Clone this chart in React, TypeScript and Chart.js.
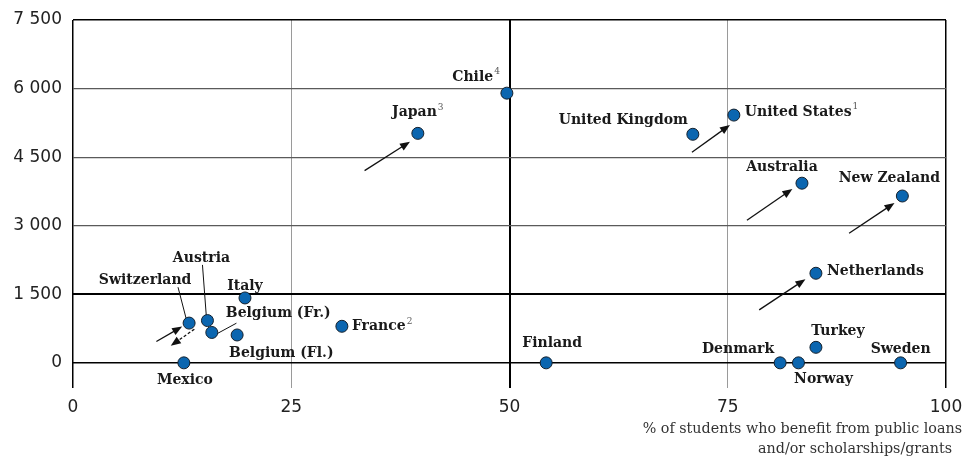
import { useEffect, useRef } from "react";
import { Chart, registerables } from "chart.js";

Chart.register(...registerables);

// ---- Data ----
const countries = [
  "Chile", "Japan", "United Kingdom", "United States", "Australia", "New Zealand",
  "Netherlands", "Turkey", "Denmark", "Norway", "Sweden", "Finland", "France",
  "Italy", "Switzerland", "Austria", "Belgium (Fr.)", "Belgium (Fl.)", "Mexico",
];
const notes = ["4", "3", "", "1", "", "", "", "", "", "", "", "", "2", "", "", "", "", "", ""];
const pctStudents = [49.7, 39.5, 71.0, 75.7, 83.5, 95.0, 85.1, 85.1, 81.0, 83.1, 94.8, 54.2, 30.8, 19.7, 13.3, 15.4, 15.9, 18.8, 12.7];
const tuitionFees = [5900, 5020, 5000, 5420, 3930, 3650, 1960, 340, 0, 0, 0, 0, 800, 1420, 870, 925, 665, 610, 0];

const xTicks = [0, 25, 50, 75, 100];
const yTicks = [0, 1500, 3000, 4500, 6000, 7500];

// arrows (from -> to) in data units
const arrowFromX = [33.4, 70.9, 77.2, 88.9, 78.6, 9.55];
const arrowFromY = [4205, 4607, 3120, 2836, 1159, 466];
const arrowToX = [38.6, 75.25, 82.4, 94.1, 83.9, 12.5];
const arrowToY = [4839, 5204, 3805, 3499, 1830, 794];
const dashedFromX = [13.9];
const dashedFromY = [737];
const dashedToX = [11.2];
const dashedToY = [372];

// leader lines in data units
const leaderFromX = [12.03, 14.83, 16.04];
const leaderFromY = [1655, 2143, 590];
const leaderToX = [13.0, 15.29, 18.72];
const leaderToY = [940, 977, 868];

const axisTitle = ["% of students who benefit from public loans", "and/or scholarships/grants"];

// label placement (styling): [dx, dy, align]
const labelPlacement: [number, number, CanvasTextAlign][] = [
  [-7, -16, "right"],
  [0, -21, "center"],
  [-5, -14, "right"],
  [11, -3, "left"],
  [-20, -16, "center"],
  [-13, -18, "center"],
  [11, -2, "left"],
  [22, -16, "center"],
  [-6, -13, "right"],
  [25, 17, "center"],
  [0, -13, "center"],
  [6, -19, "center"],
  [10, 0, "left"],
  [0, -12, "center"],
  [-44, -43, "center"],
  [-6, -62, "center"],
  [14, -19, "left"],
  [-8, 18, "left"],
  [1, 18, "center"],
];

const LABEL_FONT = "bold 14px 'DejaVu Serif'";
const SUP_FONT = "9px 'DejaVu Serif'";

function drawArrow(ctx: CanvasRenderingContext2D, x1: number, y1: number, x2: number, y2: number, dashed: boolean) {
  const ang = Math.atan2(y2 - y1, x2 - x1);
  const head = 10;
  const hw = 4;
  ctx.save();
  ctx.strokeStyle = "#111";
  ctx.fillStyle = "#111";
  ctx.lineWidth = 1.3;
  if (dashed) ctx.setLineDash([3, 2]);
  ctx.beginPath();
  ctx.moveTo(x1, y1);
  ctx.lineTo(x2 - Math.cos(ang) * head * 0.8, y2 - Math.sin(ang) * head * 0.8);
  ctx.stroke();
  ctx.setLineDash([]);
  ctx.beginPath();
  ctx.moveTo(x2, y2);
  ctx.lineTo(x2 - Math.cos(ang) * head - Math.sin(ang) * hw, y2 - Math.sin(ang) * head + Math.cos(ang) * hw);
  ctx.lineTo(x2 - Math.cos(ang) * head + Math.sin(ang) * hw, y2 - Math.sin(ang) * head - Math.cos(ang) * hw);
  ctx.closePath();
  ctx.fill();
  ctx.restore();
}

const annotPlugin = {
  id: "annot",
  beforeDatasetsDraw(chart: any) {
    const { ctx, scales } = chart;
    const xs = scales.x, ys = scales.y;
    arrowFromX.forEach((_, i) => {
      drawArrow(ctx, xs.getPixelForValue(arrowFromX[i]), ys.getPixelForValue(arrowFromY[i]),
        xs.getPixelForValue(arrowToX[i]), ys.getPixelForValue(arrowToY[i]), false);
    });
    dashedFromX.forEach((_, i) => {
      drawArrow(ctx, xs.getPixelForValue(dashedFromX[i]), ys.getPixelForValue(dashedFromY[i]),
        xs.getPixelForValue(dashedToX[i]), ys.getPixelForValue(dashedToY[i]), true);
    });
    ctx.save();
    ctx.strokeStyle = "#111";
    ctx.lineWidth = 1;
    leaderFromX.forEach((_, i) => {
      ctx.beginPath();
      ctx.moveTo(xs.getPixelForValue(leaderFromX[i]), ys.getPixelForValue(leaderFromY[i]));
      ctx.lineTo(xs.getPixelForValue(leaderToX[i]), ys.getPixelForValue(leaderToY[i]));
      ctx.stroke();
    });
    ctx.restore();
  },
  afterDatasetsDraw(chart: any) {
    const { ctx, scales } = chart;
    const xs = scales.x, ys = scales.y;
    ctx.save();
    ctx.textBaseline = "middle";
    countries.forEach((name, i) => {
      const px = xs.getPixelForValue(pctStudents[i]);
      const py = ys.getPixelForValue(tuitionFees[i]);
      const [dx, dy, align] = labelPlacement[i];
      ctx.font = LABEL_FONT;
      const w = ctx.measureText(name).width;
      ctx.font = SUP_FONT;
      const sw = notes[i] ? ctx.measureText(notes[i]).width + 1 : 0;
      const total = w + sw;
      let left = px + dx;
      if (align === "center") left = px + dx - total / 2;
      else if (align === "right") left = px + dx - total;
      ctx.textAlign = "left";
      ctx.font = LABEL_FONT;
      ctx.fillStyle = "#1a1a1a";
      ctx.fillText(name, left, py + dy);
      if (notes[i]) {
        ctx.font = SUP_FONT;
        ctx.fillStyle = "#555";
        ctx.fillText(notes[i], left + w + 1, py + dy - 5);
      }
    });
    ctx.restore();
  },
  afterDraw(chart: any) {
    const { ctx } = chart;
    ctx.save();
    ctx.font = "14.3px 'DejaVu Serif'";
    ctx.fillStyle = "#333";
    ctx.textAlign = "right";
    ctx.textBaseline = "middle";
    ctx.fillText(axisTitle[0], 962, 429);
    ctx.fillText(axisTitle[1], 952, 449);
    ctx.restore();
  },
};

function fmt(v: number) {
  return String(v).replace(/\B(?=(\d{3})+(?!\d))/g, " ");
}

export default function App() {
  const ref = useRef<HTMLCanvasElement>(null);
  useEffect(() => {
    const chart = new Chart(ref.current!, {
      type: "scatter",
      data: {
        datasets: [
          {
            data: pctStudents.map((x, i) => ({ x, y: tuitionFees[i] })),
            backgroundColor: "#0b66b0",
            borderColor: "#14202c",
            borderWidth: 1,
            pointRadius: 6,
            pointHoverRadius: 6,
          },
        ],
      },
      options: {
        responsive: false,
        animation: false,
        events: [],
        layout: { padding: { left: 0, right: 18, top: 20, bottom: 0 } },
        plugins: { legend: { display: false }, tooltip: { enabled: false } },
        scales: {
          x: {
            type: "linear",
            min: 0,
            max: 100,
            afterBuildTicks: (s: any) => { s.ticks = xTicks.map((v) => ({ value: v })); },
            afterFit: (s: any) => { s.height = 72; s.paddingRight = 0; s.paddingLeft = 0; },
            border: { display: false },
            grid: {
              drawTicks: false,
              color: (c: any) => (c.tick && (c.tick.value === 25 || c.tick.value === 75) ? "#9a9a9a" : "#000"),
              lineWidth: (c: any) => (c.tick && c.tick.value === 50 ? 2 : c.tick && (c.tick.value === 25 || c.tick.value === 75) ? 1 : 1.5),
            },
            ticks: {
              padding: 9,
              font: { family: "'DejaVu Sans'", size: 17 },
              color: "#222",
              callback: (v: any) => String(v),
            },
          },
          y: {
            type: "linear",
            min: -550,
            max: 7500,
            afterBuildTicks: (s: any) => { s.ticks = yTicks.map((v) => ({ value: v })); },
            afterFit: (s: any) => { s.width = 73; s.paddingTop = 0; s.paddingBottom = 0; },
            border: { display: false },
            grid: {
              drawTicks: false,
              color: (c: any) => (c.tick && (c.tick.value === 0 || c.tick.value === 1500 || c.tick.value === 7500) ? "#000" : "#5a5a5a"),
              lineWidth: (c: any) => (c.tick && c.tick.value === 1500 ? 2 : c.tick && (c.tick.value === 0 || c.tick.value === 7500) ? 1.5 : 1.2),
            },
            ticks: {
              padding: 11,
              font: { family: "'DejaVu Sans'", size: 17 },
              color: "#222",
              callback: (v: any) => fmt(Number(v)),
            },
          },
        },
      },
      plugins: [annotPlugin],
    } as any);
    return () => chart.destroy();
  }, []);
  return (
    <div style={{ position: "absolute", left: 0, top: 0, width: 964, height: 460 }}>
      <canvas ref={ref} width={964} height={460} style={{ display: "block", width: 964, height: 460 }} />
    </div>
  );
}
